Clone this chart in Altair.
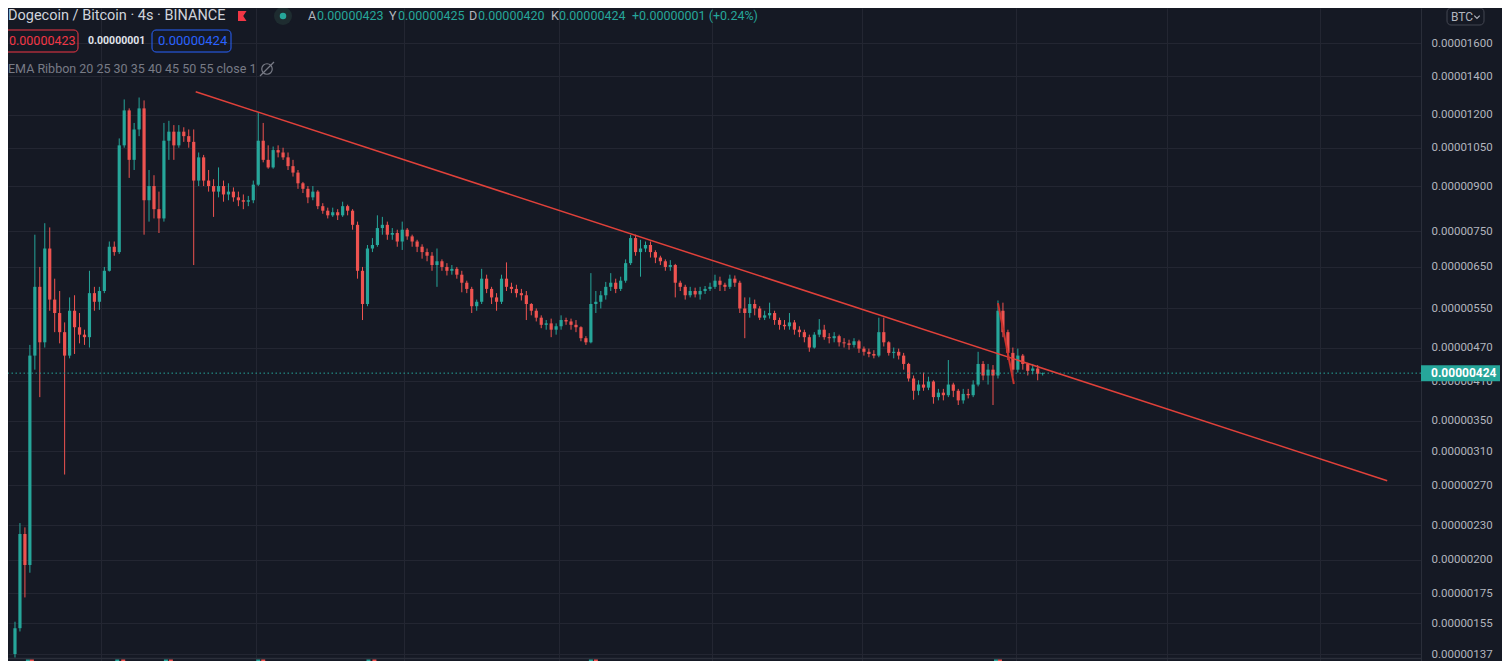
import altair as alt
import pandas as pd

# ---- OHLC candles of DOGE/BTC, prices in satoshi (1e-8 BTC) ----
opens = [
    137, 152, 222, 196, 455, 600, 480, 700, 570, 540,
    500, 455, 545, 510, 495, 490, 585, 565, 590, 640,
    705, 690, 1060, 1220, 1000, 1130, 1230, 850, 900, 820,
    790, 1080, 1120, 1060, 1120, 1100, 1075, 920, 1010, 920,
    900, 880, 900, 870, 880, 860, 850, 845, 850, 905,
    1080, 1000, 970, 1040, 1030, 1010, 975, 950, 910, 890,
    860, 880, 830, 815, 800, 810, 800, 830, 815, 770,
    640, 560, 700, 710, 760, 770, 740, 745, 720, 755,
    735, 720, 705, 690, 680, 655, 665, 650, 640, 645,
    630, 610, 595, 555, 565, 620, 595, 575, 565, 620,
    600, 595, 585, 580, 560, 545, 530, 515, 518, 505,
    512, 525, 522, 515, 510, 488, 480, 560, 565, 580,
    600, 610, 595, 615, 660, 730, 690, 700, 710, 690,
    675, 665, 650, 655, 610, 600, 580, 590, 582, 590,
    595, 600, 615, 605, 600, 620, 610, 550, 540, 560,
    550, 530, 535, 540, 525, 515, 512, 520, 505, 500,
    490, 470, 495, 505, 490, 488, 492, 480, 478, 475,
    482, 468, 462, 458, 455, 500, 480, 460, 462, 455,
    440, 415, 395, 405, 400, 410, 385, 392, 388, 405,
    395, 380, 390, 388, 405, 440, 420, 430, 420, 545,
    500, 460, 430, 455, 440, 428, 432, 423,
]
highs = [
    156, 232, 228, 475, 740, 650, 775, 762, 620, 590,
    520, 575, 580, 540, 505, 640, 600, 600, 650, 720,
    720, 1090, 1275, 1230, 1160, 1285, 1270, 960, 940, 880,
    1160, 1170, 1150, 1150, 1140, 1130, 1130, 1030, 1020, 960,
    925, 970, 920, 910, 895, 880, 870, 865, 920, 1210,
    1160, 1060, 1055, 1060, 1050, 1030, 1000, 960, 915, 900,
    900, 885, 840, 825, 825, 820, 845, 835, 820, 780,
    650, 710, 730, 800, 795, 780, 760, 755, 780, 760,
    740, 725, 712, 700, 690, 700, 670, 660, 655, 650,
    640, 615, 600, 570, 645, 630, 600, 585, 630, 662,
    610, 605, 595, 590, 562, 550, 535, 525, 528, 518,
    535, 530, 528, 525, 512, 492, 634, 590, 590, 612,
    634, 620, 625, 670, 739, 740, 725, 720, 720, 695,
    680, 670, 668, 658, 615, 605, 600, 598, 600, 602,
    610, 630, 625, 610, 630, 628, 615, 575, 575, 570,
    555, 545, 563, 545, 530, 525, 540, 525, 512, 505,
    495, 500, 527, 515, 498, 500, 495, 488, 485, 488,
    485, 472, 468, 465, 530, 530, 482, 470, 468, 460,
    442, 420, 412, 425, 418, 412, 398, 398, 447, 408,
    398, 398, 398, 412, 462, 445, 440, 438, 568, 563,
    505, 470, 468, 458, 442, 440, 438, 425,
]
lows = [
    135, 150, 172, 190, 430, 385, 470, 545, 500, 478,
    282, 450, 458, 478, 475, 470, 545, 547, 585, 638,
    680, 685, 1050, 930, 960, 1100, 740, 780, 790, 745,
    780, 1000, 1000, 1050, 1075, 1050, 655, 900, 900, 880,
    795, 860, 845, 850, 845, 830, 820, 830, 840, 900,
    990, 965, 965, 1010, 1000, 960, 935, 890, 875, 840,
    850, 820, 805, 790, 795, 785, 795, 800, 755, 620,
    525, 555, 690, 705, 740, 725, 725, 705, 696, 725,
    705, 690, 672, 665, 640, 600, 640, 628, 630, 620,
    587, 585, 540, 545, 560, 585, 560, 545, 560, 590,
    585, 575, 568, 525, 535, 522, 508, 505, 490, 495,
    505, 515, 505, 500, 482, 475, 478, 540, 550, 570,
    590, 585, 590, 610, 655, 680, 625, 690, 675, 660,
    655, 640, 640, 575, 590, 570, 575, 575, 570, 583,
    590, 595, 590, 590, 595, 600, 540, 488, 530, 535,
    525, 525, 528, 515, 505, 505, 505, 495, 490, 480,
    462, 468, 490, 485, 478, 480, 472, 470, 466, 470,
    460, 455, 452, 450, 452, 472, 455, 450, 448, 430,
    410, 381, 388, 395, 396, 375, 380, 380, 385, 385,
    373, 375, 383, 385, 402, 412, 405, 373, 415, 490,
    447, 418, 425, 430, 420, 422, 412, 420,
]
closes = [
    152, 222, 196, 455, 600, 480, 700, 570, 540, 500,
    455, 545, 510, 495, 490, 585, 565, 590, 640, 705,
    690, 1060, 1220, 1000, 1130, 1230, 850, 900, 820, 790,
    1080, 1120, 1060, 1120, 1100, 1075, 920, 1010, 920, 900,
    880, 900, 870, 880, 860, 850, 845, 850, 905, 1080,
    1000, 970, 1040, 1030, 1010, 975, 950, 910, 890, 860,
    880, 830, 815, 800, 810, 800, 830, 815, 770, 640,
    560, 700, 710, 760, 770, 740, 745, 720, 755, 735,
    720, 705, 690, 680, 655, 665, 650, 640, 645, 630,
    610, 595, 555, 565, 620, 595, 575, 565, 620, 600,
    595, 585, 580, 560, 545, 530, 515, 518, 505, 512,
    525, 522, 515, 510, 488, 480, 560, 565, 580, 600,
    610, 595, 615, 660, 730, 690, 700, 710, 690, 675,
    665, 650, 655, 610, 600, 580, 590, 582, 590, 595,
    600, 615, 605, 600, 620, 610, 550, 540, 560, 550,
    530, 535, 540, 525, 515, 512, 520, 505, 500, 490,
    470, 495, 505, 490, 488, 492, 480, 478, 475, 482,
    468, 462, 458, 455, 500, 480, 460, 462, 455, 440,
    415, 395, 405, 400, 410, 385, 392, 388, 405, 395,
    380, 390, 388, 405, 440, 420, 430, 420, 545, 500,
    460, 430, 455, 440, 428, 432, 423, 424,
]

# price-axis tick values (satoshi) and vertical grid positions (candle index)
y_ticks = [137, 155, 175, 200, 230, 270, 310, 350, 410, 470, 550, 650, 750,
           900, 1050, 1200, 1400, 1600]
x_grid = [17.4, 48.6, 78.4, 109.6, 140.4, 170.6, 201.6, 232.0, 262.8]

# drawn trend lines (candle index, price)
trend_t = [36.4, 276.4]
trend_p = [1315, 275]
trend2_t = [198.0, 201.2]
trend2_p = [562, 406]

# bottom indicator pane bars (candle index, kind)
ind_t = [2.6, 3.4, 20.6, 21.8, 30.4, 31.4, 49.0, 50.0, 71.2, 72.4, 116.0, 117.0, 197.6, 198.4]
ind_k = ["hi", "lo", "hi", "lo", "hi", "lo", "hi", "lo", "hi", "lo", "hi", "lo", "hi", "lo"]

bid, spread, ask = 423, 1, 424

# ---------------- build ----------------
n = len(closes)
candles = pd.DataFrame({"t": list(range(n)), "open": opens, "high": highs,
                        "low": lows, "close": closes})
candles["dir"] = ["up" if c >= o else "down" for o, c in zip(opens, closes)]

W, H = 1413, 653
BG = "#151924"
GRID = "#232632"
UP, DOWN = "#26a69a", "#ef5350"

xs = alt.Scale(domain=[-0.4, 282.2], nice=False, zero=False)
ys = alt.Scale(type="log", domain=[133.2, 1841.9], nice=False)
cs = alt.Scale(domain=["up", "down"], range=[UP, DOWN])

xaxis = alt.Axis(values=x_grid, grid=True, gridColor=GRID, labels=False,
                 ticks=False, domain=False, title=None)
yaxis = alt.Axis(orient="right", values=y_ticks, title=None, grid=True,
                 gridColor=GRID, ticks=False, domain=True, domainColor="#2a2e39",
                 labelColor="#b2b5be", labelFont="Roboto", labelFontSize=11.5,
                 labelPadding=10, labelOverlap=False, labelFlush=False,
                 labelExpr="format(datum.value / 1e8, '.8f')")


def X(f):
    return alt.X(f, scale=xs, axis=xaxis)


def Y(f):
    return alt.Y(f, scale=ys, axis=yaxis)


base = alt.Chart(candles)
wicks = base.mark_rule(strokeWidth=1).encode(
    x=X("t:Q"), y=Y("low:Q"), y2="high:Q",
    color=alt.Color("dir:N", scale=cs, legend=None))
bodies = base.mark_bar(size=3.2).encode(
    x=X("t:Q"), y=Y("open:Q"), y2="close:Q",
    color=alt.Color("dir:N", scale=cs, legend=None))

trend = alt.Chart(pd.DataFrame({"t": trend_t, "p": trend_p})).mark_line(
    color="#e0413a", strokeWidth=1.5).encode(x=X("t:Q"), y=Y("p:Q"))
trend2 = alt.Chart(pd.DataFrame({"t": trend2_t, "p": trend2_p})).mark_line(
    color="#c8322c", strokeWidth=2).encode(x=X("t:Q"), y=Y("p:Q"))

last = pd.DataFrame({"p": [closes[-1]], "s": [f"{closes[-1] / 1e8:.8f}"]})
price_line = alt.Chart(last).mark_rule(color=UP, strokeWidth=1, strokeDash=[1.5, 2.5]).encode(
    y=Y("p:Q"))
badge = alt.Chart(last).mark_tick(orient="horizontal", thickness=16, size=79,
                                   color=UP, opacity=1).encode(
    x=alt.value(1452.5), y=Y("p:Q"))
badge_txt = alt.Chart(last).mark_text(align="left", baseline="middle", color="#ffffff",
                                       fontSize=12, fontWeight="bold", font="Roboto").encode(
    x=alt.value(1423), y=Y("p:Q"), text="s:N")

one = pd.DataFrame({"a": [0]})
separator = alt.Chart(one).mark_rule(color="#2a2e39", strokeWidth=1.5).encode(
    x=alt.value(0), x2=alt.value(W), y=alt.value(650.5))
ind = alt.Chart(pd.DataFrame({"t": ind_t, "k": ind_k})).mark_bar(size=4).encode(
    x=X("t:Q"), y=alt.value(651.5), y2=alt.value(H),
    color=alt.Color("k:N", scale=alt.Scale(domain=["hi", "lo"], range=["#00e5ff", "#1f3cff"]),
                    legend=None))


def txt(s, x, y, color, size, weight="normal", font="Roboto"):
    return alt.Chart(pd.DataFrame({"s": [s]})).mark_text(
        align="left", baseline="middle", color=color, fontSize=size,
        fontWeight=weight, font=font).encode(x=alt.value(x), y=alt.value(y), text="s:N")


def box(x1, x2, y1, y2, stroke):
    return alt.Chart(one).mark_rect(fillOpacity=0, stroke=stroke, strokeWidth=1,
                                    cornerRadius=4).encode(
        x=alt.value(x1), x2=alt.value(x2), y=alt.value(y1), y2=alt.value(y2))


def sym(x, y, shape, size, color, filled=True, sw=1.0):
    return alt.Chart(one).mark_point(shape=shape, size=size, filled=filled, color=color,
                                     opacity=1, strokeWidth=sw).encode(
        x=alt.value(x), y=alt.value(y))


fmt = lambda v: f"{v / 1e8:.8f}"
chg = closes[-1] - closes[-2]
pct = chg / closes[-2] * 100

L1 = 8
header = [
    txt("Dogecoin / Bitcoin · 4s · BINANCE", 0, L1, "#d1d4dc", 14.5),
    sym(234, L1, "M -0.8 -1 L 0.9 -1 L 0.25 0 L 0.9 1 L -0.8 1 Z", 100, "#f23645"),
    sym(275, L1, "circle", 324, "#1e2c30"),
    sym(275, L1, "circle", 42, UP),
    txt("A", 300, L1, "#b2b5be", 12.5), txt(fmt(opens[-1]), 309, L1, UP, 12.5),
    txt("Y", 381, L1, "#b2b5be", 12.5), txt(fmt(highs[-1]), 390, L1, UP, 12.5),
    txt("D", 461, L1, "#b2b5be", 12.5), txt(fmt(lows[-1]), 470, L1, UP, 12.5),
    txt("K", 543, L1, "#b2b5be", 12.5), txt(fmt(closes[-1]), 551, L1, UP, 12.5),
    txt(f"+{fmt(chg)} (+{pct:.2f}%)", 624, L1, UP, 12.5),
    box(-8, 70, 22, 44, "#f23645"),
    txt(fmt(bid), 1, 33, "#f23645", 12.5),
    txt(fmt(spread), 80, 33, "#e0e3eb", 10.5, "bold"),
    box(144, 223, 22, 44, "#2962ff"),
    txt(fmt(ask), 150, 33, "#2962ff", 13),
    txt("EMA Ribbon 20 25 30 35 40 45 50 55 close 1", 0, 61, "#787b86", 12.5),
    sym(259, 61, "circle", 110, "#787b86", filled=False, sw=1.2),
    alt.Chart(one).mark_rule(color="#787b86", strokeWidth=1.2).encode(
        x=alt.value(252), x2=alt.value(266), y=alt.value(68), y2=alt.value(54)),
    box(1439, 1476, 0, 17, "#434651"),
    txt("BTC", 1443, 9, "#b2b5be", 12),
    sym(1469, 9, "M -1 -0.5 L 0 0.5 L 1 -0.5", 30, "#b2b5be", filled=False, sw=1.2),
]

chart = alt.layer(
    wicks, bodies, price_line, trend, trend2, separator, ind,
    badge, badge_txt, *header
).properties(
    width=W, height=H, background=BG,
    autosize=alt.AutoSizeParams(type="none"),
    padding={"left": 0, "top": 0, "right": 81, "bottom": 0},
).configure_view(strokeWidth=0, fill=BG)

chart.save("out.html", embed_options={"renderer": "svg", "actions": False})
